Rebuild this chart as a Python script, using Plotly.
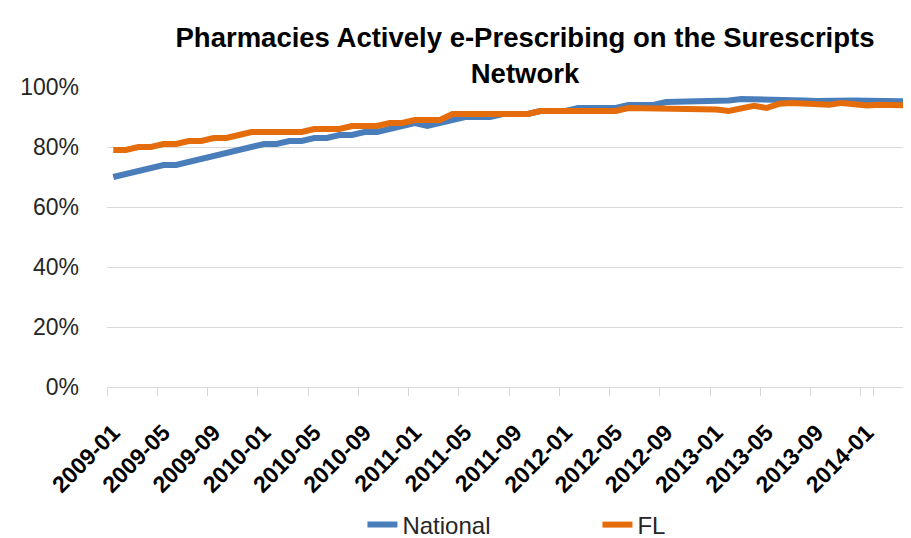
import plotly.graph_objects as go

# ---- data ----
months = [f"{y}-{m:02d}" for y in range(2009, 2015) for m in range(1, 13)][:64]

national = [70, 71, 72, 73, 74, 74, 75, 76, 77, 78, 79, 80,
            81, 81, 82, 82, 83, 83, 84, 84, 85, 85, 86, 87,
            88, 87, 88, 89, 90, 90, 90, 91, 91, 91, 92, 92,
            92, 93, 93, 93, 93, 94, 94, 94, 95, 95, 95, 95,
            95, 95.5, 96, 96, 96, 96, 95.5, 95.5, 95.3, 95.5, 95.6, 95.5,
            95.4, 95.3, 95.3, 95.2]

fl = [79, 79, 80, 80, 81, 81, 82, 82, 83, 83, 84, 85,
      85, 85, 85, 85, 86, 86, 86, 87, 87, 87, 88, 88,
      89, 89, 89, 91, 91, 91, 91, 91, 91, 91, 92, 92,
      92, 92, 92, 92, 92, 93, 93, 93, 93, 93, 93, 92.7,
      92.5, 92, 93, 93.7, 93, 94.4, 94.7, 94.6, 94.3, 94.1, 94.7, 94.4,
      93.8, 94.1, 94, 93.9]

tick_labels = months[::4]
y_ticks = [0, 0.2, 0.4, 0.6, 0.8, 1.0]

national_frac = [v / 100 for v in national]
fl_frac = [v / 100 for v in fl]

fig = go.Figure()
fig.add_trace(go.Scatter(x=months, y=national_frac, mode="lines", name="National",
                         line=dict(color="#4A7EBB", width=6)))
fig.add_trace(go.Scatter(x=months, y=fl_frac, mode="lines", name="FL",
                         line=dict(color="#E46C0A", width=6)))

# the page body adds an 8px offset; margins compensate
fig.update_layout(
    width=911, height=538,
    margin=dict(l=99, r=8, t=79, b=159, autoexpand=False),
    paper_bgcolor="white", plot_bgcolor="white",
    font=dict(family="Liberation Sans, Arial, sans-serif", color="#262626", size=22),
    title=dict(
        text="<b>Pharmacies Actively e-Prescribing on the Surescripts<br>Network</b>",
        x=(525 - 8) / 911, xanchor="center", xref="container",
        y=1 - 39 / 538, yanchor="top", yref="container",
        font=dict(family="Liberation Sans, Arial, sans-serif", size=27.5, color="black"),
    ),
    showlegend=True,
    legend=dict(orientation="h", x=0.61, xanchor="center", y=-0.46, yanchor="middle",
                font=dict(size=24, color="#262626"), entrywidth=190),
    xaxis=dict(
        type="category", range=[-0.5, 63.5], automargin=False,
        tickmode="array", tickvals=tick_labels, ticktext=tick_labels,
        tickson="boundaries", ticks="outside", ticklen=8, tickcolor="#D9D9D9",
        showgrid=False, showline=True, linecolor="#D9D9D9", linewidth=1,
        tickangle=-45, tickfont=dict(size=23, weight="bold", color="black"),
        ticklabelstandoff=22,
    ),
    yaxis=dict(
        range=[0, 1], tickvals=y_ticks, tickformat=".0%", automargin=False,
        showgrid=True, gridcolor="#D9D9D9", gridwidth=1,
        zeroline=False, ticks="", ticklabelstandoff=27,
        tickfont=dict(size=23, color="#262626"),
    ),
)

fig.write_html("out.html")
